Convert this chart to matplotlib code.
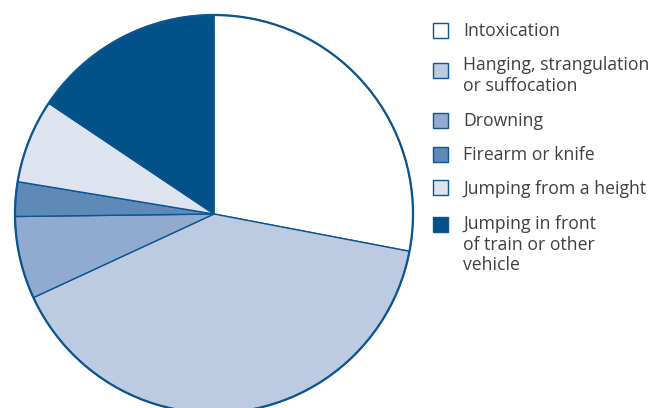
import matplotlib.pyplot as plt
from matplotlib.patches import Rectangle, Circle

# share of deaths by method (%)
methods = [
    "Intoxication",
    "Hanging, strangulation\nor suffocation",
    "Drowning",
    "Firearm or knife",
    "Jumping from a height",
    "Jumping in front\nof train or other\nvehicle",
]
shares = [28.0, 40.1, 6.7, 2.8, 6.8, 15.6]
colors = ["#ffffff", "#bccbe1", "#91aacf", "#5f8ab8", "#dde3ef", "#02528a"]

edge = "#0b5590"
text_color = "#404040"


def main():
    fig = plt.figure(figsize=(6.6, 4.08), dpi=100)
    W, H = 660.0, 408.0

    # pie axes: centre (214, 214), radius 199 px (limits padded by 1%)
    half = 199 * 1.01
    ax = fig.add_axes([(214 - half) / W, (H - 214 - half) / H, 2 * half / W, 2 * half / H])
    ax.pie(
        shares,
        colors=colors,
        startangle=90,
        counterclock=False,
        wedgeprops=dict(edgecolor=edge, linewidth=1.0),
    )
    # slightly heavier outer rim
    ax.add_patch(Circle((0, 0), 1, fill=False, edgecolor=edge, linewidth=1.6))
    ax.set_aspect("equal")
    ax.set_xlim(-1.01, 1.01)
    ax.set_ylim(-1.01, 1.01)
    ax.axis("off")

    # legend drawn by hand: square + label lines
    square_y = [30, 70, 120, 154, 188, 224.5]
    first_baseline = [35.5, 70, 126, 160, 194, 229]
    for label, col, sy, by in zip(methods, colors, square_y, first_baseline):
        fig.patches.append(
            Rectangle(
                (432.5 / W, (H - sy - 7.5) / H),
                15 / W,
                15 / H,
                facecolor=col,
                edgecolor=edge,
                linewidth=1.0,
                transform=fig.transFigure,
                figure=fig,
            )
        )
        for i, line in enumerate(label.split("\n")):
            fig.text(
                463 / W,
                (H - by - i * 20.7) / H,
                line,
                ha="left",
                va="baseline",
                fontsize=12.7,
                family="Open Sans",
                color=text_color,
            )

    fig.savefig("out.png", dpi=100)


if __name__ == "__main__":
    main()
